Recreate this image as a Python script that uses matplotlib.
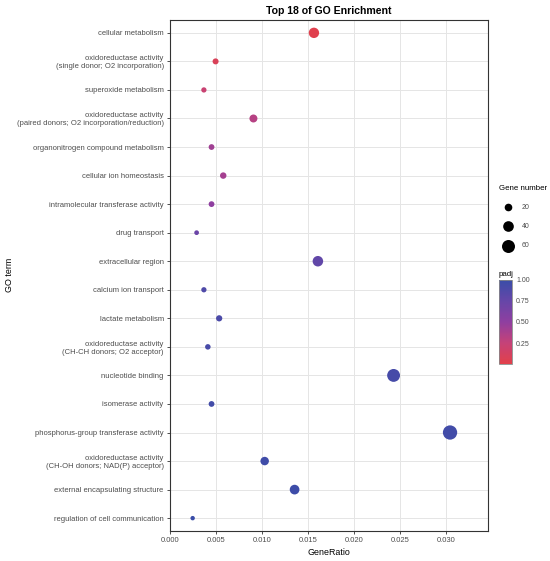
import matplotlib
matplotlib.use("Agg")
from matplotlib import pyplot as plt
from matplotlib.colors import LinearSegmentedColormap, Normalize
from matplotlib.cm import ScalarMappable
import numpy as np

plt.rcParams['font.family'] = ['Liberation Sans', 'DejaVu Sans']

# GO terms, top to bottom
terms = [
    "cellular metabolism",
    "oxidoreductase activity\n(single donor; O2 incorporation)",
    "superoxide metabolism",
    "oxidoreductase activity\n(paired donors; O2 incorporation/reduction)",
    "organonitrogen compound metabolism",
    "cellular ion homeostasis",
    "intramolecular transferase activity",
    "drug transport",
    "extracellular region",
    "calcium ion transport",
    "lactate metabolism",
    "oxidoreductase activity\n(CH-CH donors; O2 acceptor)",
    "nucleotide binding",
    "isomerase activity",
    "phosphorus-group transferase activity",
    "oxidoreductase activity\n(CH-OH donors; NAD(P) acceptor)",
    "external encapsulating structure",
    "regulation of cell communication",
]
gene_ratio = [0.01563, 0.00495, 0.00368, 0.00906, 0.00451, 0.00578, 0.00451, 0.00289, 0.01606,
              0.00368, 0.00534, 0.00411, 0.02428, 0.00451, 0.03041, 0.01028, 0.01353, 0.00246]
gene_count = [38, 12, 9, 22, 11, 14, 11, 7, 39, 9, 13, 10, 59, 11, 73, 25, 33, 6]
padj = [0.02, 0.08, 0.22, 0.32, 0.42, 0.40, 0.50, 0.72, 0.78, 0.88, 0.90, 0.92, 0.93, 0.95, 0.95,
        0.97, 0.98, 1.00]

legend_counts = [20, 40, 60]
cbar_ticks = [0.25, 0.50, 0.75, 1.00]

def size_of(c):
    return 1.56 + 1.43 * np.asarray(c, dtype=float)

cmap = LinearSegmentedColormap.from_list(
    "padj", [(0.0, "#E2404A"), (0.25, "#C54278"), (0.5, "#8F3FA0"), (0.75, "#6646A8"), (1.0, "#3A4DA8")])
norm = Normalize(0, 1)

fig = plt.figure(figsize=(5.5, 5.61), dpi=100)
ax = fig.add_axes([170 / 550, 30 / 561, 317.7 / 550, 511 / 561])

ypos = np.arange(len(terms))[::-1]
ax.scatter(gene_ratio, ypos, s=size_of(gene_count), c=padj, cmap=cmap, norm=norm,
           linewidths=0, zorder=3)

ax.set_ylim(-0.45, len(terms) - 1 + 0.45)
ax.set_xlim(0, 0.0345)
ax.set_yticks(ypos)
ax.set_yticklabels(terms, fontsize=5.5, color="#4D4D4D", linespacing=1.15)
xt = [0.0, 0.005, 0.010, 0.015, 0.020, 0.025, 0.030]
ax.set_xticks(xt)
ax.set_xticklabels(["%.3f" % v for v in xt], fontsize=5.5, color="#4D4D4D")
ax.tick_params(length=2.5, width=0.6, color="#333333", pad=2)
ax.grid(True, color="#E5E5E5", linewidth=0.7, zorder=0)
ax.set_axisbelow(True)
for sp in ax.spines.values():
    sp.set_color("#333333")
    sp.set_linewidth(0.8)

ax.set_title("Top 18 of GO Enrichment", fontsize=7.6, fontweight="bold", pad=4)
ax.set_xlabel("GeneRatio", fontsize=6.4, labelpad=3)
fig.text(10 / 550, 1 - 275 / 561, "GO term", rotation=90, fontsize=6.4, ha="center", va="center")

# size legend
handles = [ax.scatter([], [], s=size_of(v), color="black", linewidths=0) for v in legend_counts]
leg = fig.legend(handles, [str(v) for v in legend_counts], title="Gene number",
                 loc="upper left", bbox_to_anchor=(499 / 550, 1 - 185 / 561), frameon=False,
                 fontsize=5, title_fontsize=5.7, labelspacing=1.75, handletextpad=0.7,
                 borderpad=0, borderaxespad=0, handlelength=2.6)
leg._legend_box.align = "left"
for t in leg.get_texts():
    t.set_color("#4D4D4D")

# colour bar
cax = fig.add_axes([498.7 / 550, 1 - 364 / 561, 13.3 / 550, 84 / 561])
cb = fig.colorbar(ScalarMappable(norm=norm, cmap=cmap), cax=cax, ticks=cbar_ticks)
cb.ax.set_yticklabels(["%.2f" % v for v in cbar_ticks], fontsize=5, color="#4D4D4D")
cb.ax.tick_params(length=0, pad=3)
cb.outline.set_edgecolor("#888888")
cb.outline.set_linewidth(0.6)
fig.text(498.7 / 550, 1 - 274 / 561, "padj", fontsize=5.7, ha="left", va="center")

fig.savefig("out.png", dpi=100)
